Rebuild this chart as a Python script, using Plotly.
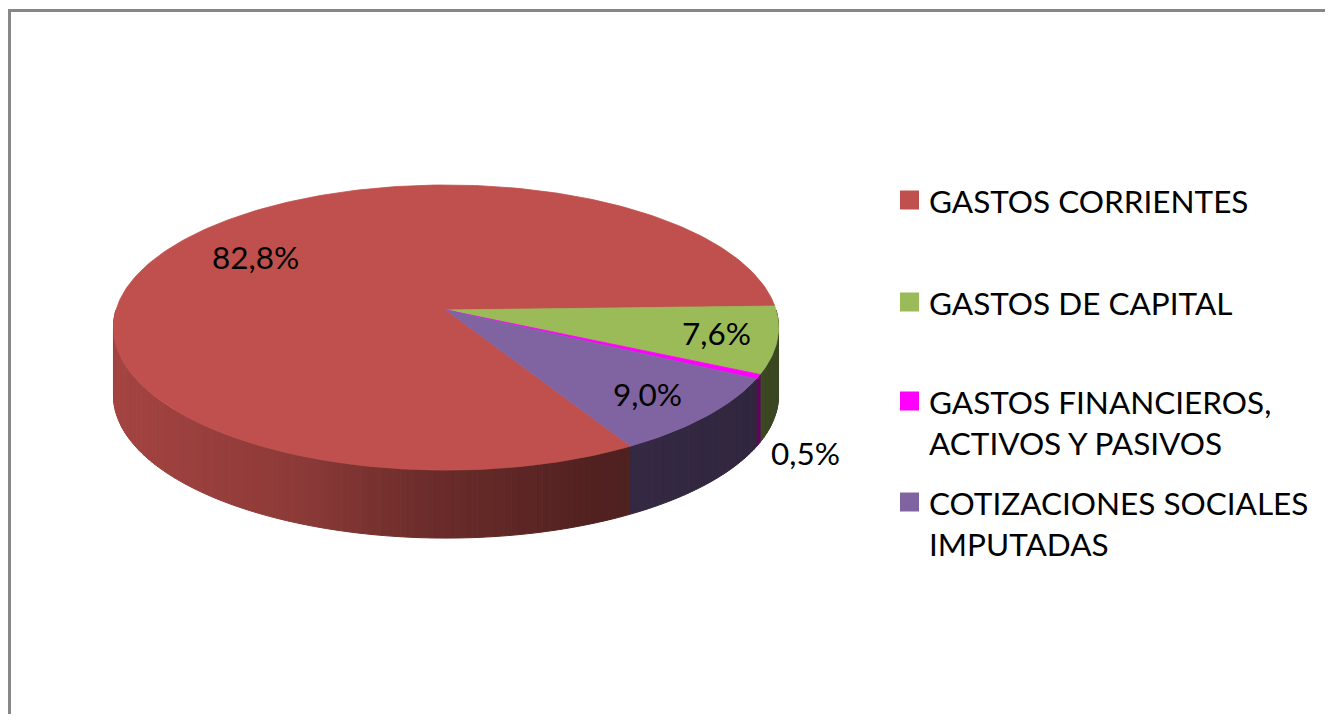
import numpy as np
import plotly.graph_objects as go

# ---------------- data ----------------
CATEGORIES = ["GASTOS CORRIENTES", "GASTOS DE CAPITAL",
              "GASTOS FINANCIEROS,<br>ACTIVOS Y PASIVOS",
              "COTIZACIONES SOCIALES<br>IMPUTADAS"]
VALUES = [82.8, 7.6, 0.5, 9.0]
LABELS = ["82,8%", "7,6%", "0,5%", "9,0%"]
COLORS = ["#C0504D", "#9BBB59", "#FF00FF", "#8064A2"]

# ---------------- style / geometry ----------------
PAGE_W, PAGE_H = 1333, 726
BODY = 8                    # default page body margin
W, H = PAGE_W - 2 * BODY, PAGE_H - 2 * BODY - 4
CX, CY = 446, 310           # pie apex (page pixel units on the axes)
RX, RY = 330, 140.4         # top-face radii
K = 0.123                   # perspective strength
DEPTH = 68                  # side thickness
START = 150                 # first slice start, degrees clockwise from 12 o'clock
FONT = "Lato, Carlito, Calibri, sans-serif"
FS = 31.5
LABEL_R = [0.70, 0.83, None, 0.80]   # None -> outside label
LABEL_DXY = [(3, -7), (-3, -2), (1, -2), (-3, 1)]
LEGEND_Y = [200, 302, 401, 502]
LEGEND_X = 900
SQ = 19

vals = np.array(VALUES, dtype=float)
spans = vals / vals.sum() * 360.0
starts = START + np.concatenate([[0], np.cumsum(spans)[:-1]])
ends = starts + spans


def proj(theta, r=1.0, dz=0.0):
    t = np.radians(theta)
    u = r * np.sin(t)
    v = -r * np.cos(t)
    s = 1.0 / (1.0 - K * v)
    return CX + RX * u * s, CY + RY * v * s + dz


def hex2rgb(h):
    h = h.lstrip("#")
    return np.array([int(h[i:i + 2], 16) for i in (0, 2, 4)], dtype=float)


def shade(hexcol, x):
    f = np.interp(x, [110, 300, 420, 600, 790], [0.86, 0.73, 0.57, 0.42, 0.38])
    c = np.clip(hex2rgb(hexcol) * f, 0, 255).astype(int)
    return f"rgb({c[0]},{c[1]},{c[2]})"


fig = go.Figure()

# ---- chart frame (left and top edges; right/bottom lie outside the view) ----
fig.add_trace(go.Scatter(
    x=[9.5, 9.5, BODY + W + 50], y=[BODY + H + 50, 10.5, 10.5],
    mode="lines", line=dict(color="#878787", width=3),
    hoverinfo="skip", showlegend=False, cliponaxis=True))

# ---- side faces (visible front half: 90..270 deg) ----
for i in range(len(vals)):
    a, b = starts[i], ends[i]
    for lo, hi in ((90, 270), (450, 630)):
        s0, s1 = max(a, lo), min(b, hi)
        if s1 <= s0:
            continue
        n = max(1, int(np.ceil((s1 - s0) / 1.0)))
        edges = np.linspace(s0, s1, n + 1)
        for j in range(n):
            t0, t1 = edges[j], edges[j + 1]
            x0, y0 = proj(t0)
            x1, y1 = proj(t1)
            xb1, yb1 = proj(t1, dz=DEPTH)
            xb0, yb0 = proj(t0, dz=DEPTH)
            col = shade(COLORS[i], (x0 + x1) / 2)
            fig.add_trace(go.Scatter(
                x=[x0, x1, xb1, xb0, x0], y=[y0, y1, yb1, yb0, y0],
                mode="lines", fill="toself", fillcolor=col,
                line=dict(color=col, width=1), hoverinfo="skip",
                showlegend=False))

# ---- top faces ----
for i in range(len(vals)):
    th = np.linspace(starts[i], ends[i], max(3, int(np.ceil(spans[i])) + 1))
    xs, ys = proj(th)
    xs = np.concatenate([[CX], xs, [CX]])
    ys = np.concatenate([[CY], ys, [CY]])
    fig.add_trace(go.Scatter(
        x=xs, y=ys, mode="lines", fill="toself", fillcolor=COLORS[i],
        line=dict(color=COLORS[i], width=0.8), name=CATEGORIES[i],
        hoverinfo="name", showlegend=False))

# ---- data labels ----
for i in range(len(vals)):
    mid = (starts[i] + ends[i]) / 2
    dx, dy = LABEL_DXY[i]
    if LABEL_R[i] is not None:
        lx, ly = proj(mid, LABEL_R[i])
        anchor = "center"
    else:
        lx, ly = proj(mid, 1.0, DEPTH)
        lx, ly = lx + 10, ly + 10
        anchor = "left"
    fig.add_annotation(x=lx + dx, y=ly + dy, text=LABELS[i], showarrow=False,
                       xanchor=anchor, yanchor="middle",
                       font=dict(family=FONT, size=FS, color="#000000"))

# ---- legend (manual) ----
for i in range(len(vals)):
    yc = LEGEND_Y[i]
    fig.add_shape(type="rect", x0=LEGEND_X, x1=LEGEND_X + SQ,
                  y0=yc - SQ / 2, y1=yc + SQ / 2,
                  fillcolor=COLORS[i], line=dict(width=0), layer="above")
    fig.add_annotation(x=LEGEND_X + SQ + 8, y=yc - FS * 0.65, text=CATEGORIES[i],
                       showarrow=False, xanchor="left", yanchor="top", align="left",
                       font=dict(family=FONT, size=FS, color="#000000"))

fig.update_layout(
    width=W, height=H, margin=dict(l=0, r=0, t=0, b=0),
    paper_bgcolor="white", plot_bgcolor="white", showlegend=False,
    xaxis=dict(range=[BODY, BODY + W], visible=False, fixedrange=True),
    yaxis=dict(range=[BODY + H, BODY], visible=False, fixedrange=True),
)

fig.write_html("out.html")
